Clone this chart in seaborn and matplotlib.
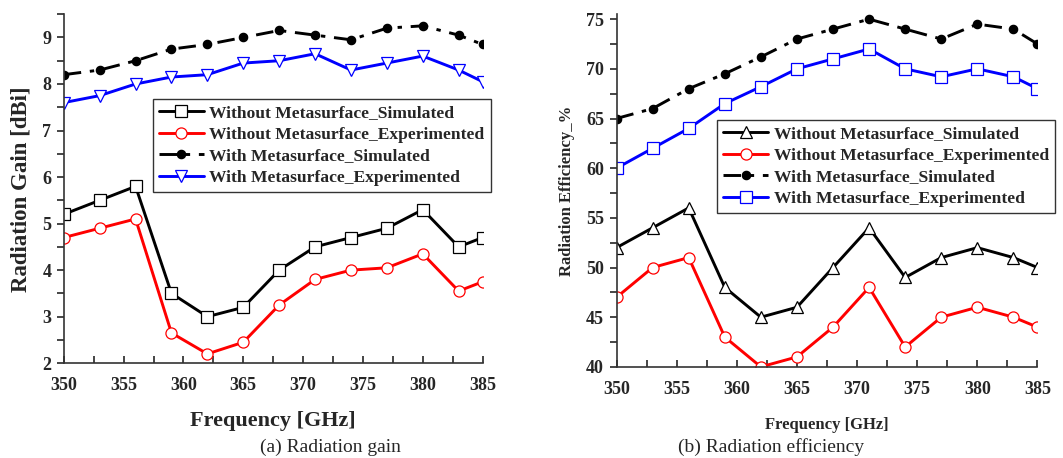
import matplotlib
matplotlib.use('Agg')
import matplotlib.pyplot as plt
import seaborn as sns
import numpy as np
from matplotlib.ticker import MultipleLocator

sns.set_style("ticks")
plt.rcParams['font.family'] = ['Liberation Serif', 'DejaVu Serif']
plt.rcParams['mathtext.fontset'] = 'stix'

# data
freq = [350, 353, 356, 359, 362, 365, 368, 371, 374, 377, 380, 383, 385]

gain_wo_sim = [5.2, 5.5, 5.8, 3.5, 3.0, 3.2, 4.0, 4.5, 4.7, 4.9, 5.3, 4.5, 4.7]
gain_wo_exp = [4.7, 4.9, 5.1, 2.65, 2.2, 2.45, 3.25, 3.8, 4.0, 4.05, 4.35, 3.55, 3.75]
gain_w_sim = [8.2, 8.3, 8.5, 8.75, 8.85, 9.0, 9.15, 9.05, 8.95, 9.2, 9.25, 9.05, 8.85]
gain_w_exp = [7.6, 7.75, 8.0, 8.15, 8.2, 8.45, 8.5, 8.65, 8.3, 8.45, 8.6, 8.3, 8.05]

eff_wo_sim = [52, 54, 56, 48, 45, 46, 50, 54, 49, 51, 52, 51, 50]
eff_wo_exp = [47, 50, 51, 43, 40, 41, 44, 48, 42, 45, 46, 45, 44]
eff_w_sim = [65, 66, 68, 69.5, 71.2, 73, 74, 75, 74, 73, 74.5, 74, 72.5]
eff_w_exp = [60, 62, 64, 66.5, 68.2, 70, 71, 72, 70, 69.2, 70, 69.2, 68]

labels = ['Without Metasurface_Simulated', 'Without Metasurface_Experimented',
          'With Metasurface_Simulated', 'With Metasurface_Experimented']

dashdot = (0, (6, 3, 1.5, 3))

fig = plt.figure(figsize=(10.63, 4.58), dpi=100)
ax1 = fig.add_axes([0.060, 0.207, 0.394, 0.762])
ax2 = fig.add_axes([0.580, 0.199, 0.396, 0.770])


def draw(ax, ys, black_marker, blue_marker):
    styles = [
        dict(color='black', marker=black_marker, mfc='white', mec='black', linestyle='-'),
        dict(color='red', marker='o', mfc='white', mec='red', linestyle='-'),
        dict(color='black', marker='o', mfc='black', mec='black', linestyle=dashdot, markersize=6),
        dict(color='blue', marker=blue_marker, mfc='white', mec='blue', linestyle='-'),
    ]
    for y, lab, st in zip(ys, labels, styles):
        kw = dict(linewidth=2.1, markersize=8, markeredgewidth=0.9)
        kw.update(st)
        sns.lineplot(x=freq, y=y, ax=ax, label=lab, **kw)
    for s in ['top', 'right']:
        ax.spines[s].set_visible(False)
    for s in ['left', 'bottom']:
        ax.spines[s].set_linewidth(1.2)
        ax.spines[s].set_color('#333333')
    ax.set_xlim(350, 385)
    ax.xaxis.set_major_locator(MultipleLocator(5))
    ax.xaxis.set_minor_locator(MultipleLocator(2.5))
    ax.tick_params(axis='x', which='both', direction='in', length=5, width=1.2)
    ax.tick_params(axis='x', which='major', pad=10)
    ax.tick_params(axis='y', which='both', direction='out', length=5, width=1.2)
    ax.tick_params(axis='y', which='major', pad=4)


draw(ax1, [gain_wo_sim, gain_wo_exp, gain_w_sim, gain_w_exp], 's', 'v')
draw(ax2, [eff_wo_sim, eff_wo_exp, eff_w_sim, eff_w_exp], '^', 's')

ax1.set_ylim(2, 9.5)
ax1.yaxis.set_major_locator(MultipleLocator(1))
ax1.yaxis.set_minor_locator(MultipleLocator(0.5))
ax1.tick_params(axis='both', which='major', labelsize=13)
for t in ax1.get_xticklabels() + ax1.get_yticklabels():
    t.set_fontweight('bold')
ax1.set_xlabel('Frequency [GHz]', fontsize=16, fontweight='bold', labelpad=12)
ax1.set_ylabel('Radiation Gain [dBi]', fontsize=16.5, fontweight='bold', labelpad=8)

ax2.set_ylim(40, 75.5)
ax2.yaxis.set_major_locator(MultipleLocator(5))
ax2.yaxis.set_minor_locator(MultipleLocator(2.5))
ax2.tick_params(axis='both', which='major', labelsize=13)
for t in ax2.get_xticklabels() + ax2.get_yticklabels():
    t.set_fontweight('bold')
ax2.set_xlabel('Frequency [GHz]', fontsize=12, fontweight='bold', labelpad=14)
ax2.set_ylabel('Radiation Efficiency_%', fontsize=12, fontweight='bold', labelpad=8)

leg1 = ax1.legend(loc='upper left', bbox_to_anchor=(0.212, 0.757), fancybox=False,
                  edgecolor='#333333', framealpha=1, handlelength=2.6, borderpad=0.35,
                  labelspacing=0.3, handletextpad=0.3, borderaxespad=0,
                  prop={'weight': 'bold', 'size': 12.6})
leg2 = ax2.legend(loc='upper left', bbox_to_anchor=(0.238, 0.700), fancybox=False,
                  edgecolor='#333333', framealpha=1, handlelength=2.6, borderpad=0.35,
                  labelspacing=0.3, handletextpad=0.3, borderaxespad=0,
                  prop={'weight': 'bold', 'size': 12.6})
leg1.get_frame().set_linewidth(1.0)
leg2.get_frame().set_linewidth(1.0)

fig.text(0.311, 0.024, '(a) Radiation gain', ha='center', va='center', fontsize=14)
fig.text(0.725, 0.024, '(b) Radiation efficiency', ha='center', va='center', fontsize=14)

fig.savefig('out.png', dpi=100)
